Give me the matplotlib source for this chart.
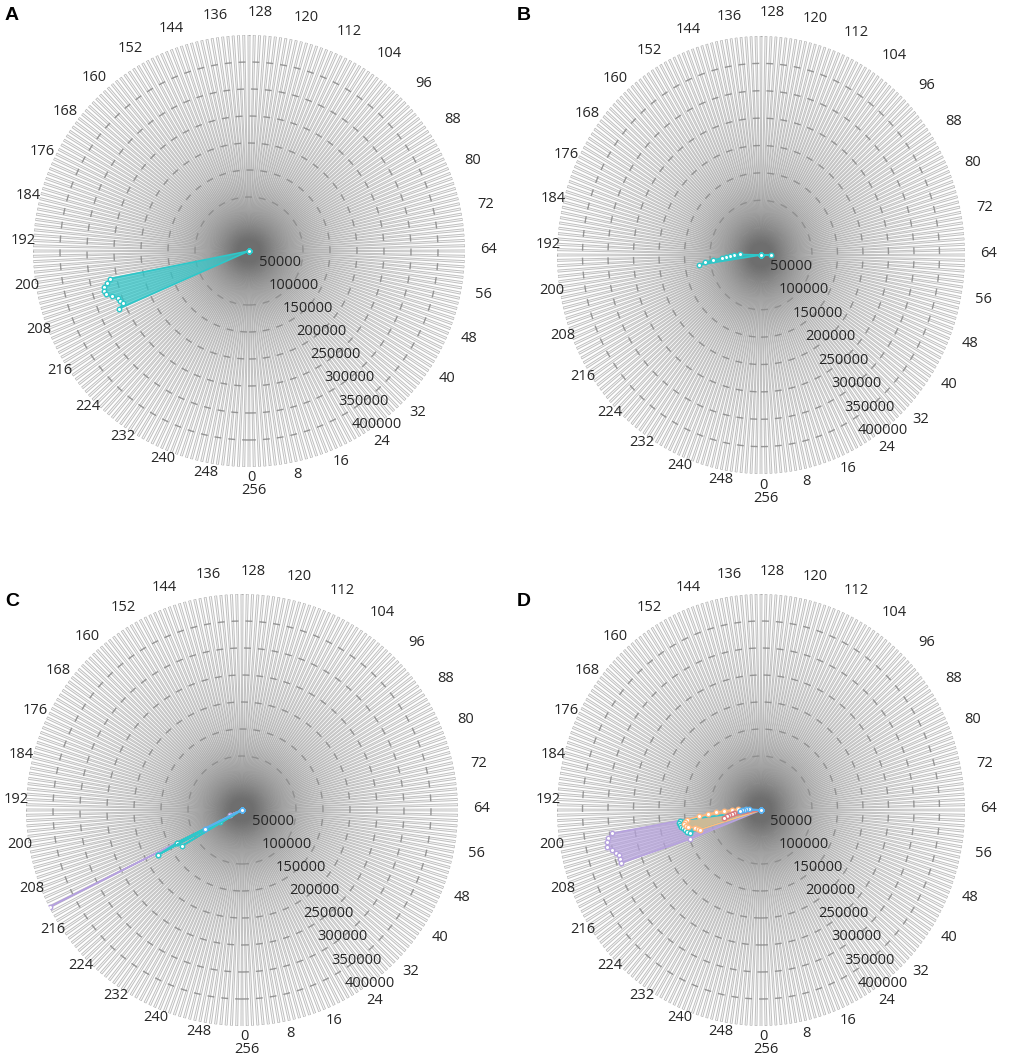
import numpy as np
import matplotlib
matplotlib.use("Agg")
from matplotlib import pyplot as plt

plt.rcParams['font.family'] = ['Open Sans', 'DejaVu Sans']

n_spokes = 256
r_max = 400000
ring_values = [50000, 100000, 150000, 200000, 250000, 300000, 350000, 400000]
ring_labels = ["50000", "100000", "150000", "200000", "250000", "300000", "350000", "400000"]
spoke_labels = list(range(0, 256, 8))

# panel A
a_cyan_idx = [200, 201, 202, 203, 204, 205, 206, 207, 208, 209]
a_cyan_val = [262000, 270000, 276000, 279000, 277000, 268000, 258000, 256000, 252000, 263000]

# panel B
b_cyan_idx = [64, 191, 192, 193, 194, 195, 196, 197, 198]
b_cyan_val = [19000, 41000, 52000, 60000, 68000, 77000, 94000, 110000, 122000]

# panel C (single-point series)
c_purple_idx = [208, 211]
c_purple_val = [24000, 398000]
c_cyan_idx = [212, 214, 211, 212]
c_cyan_val = [46000, 130000, 135000, 176000]
c_blue_idx = [211]
c_blue_val = [77000]

# panel D
d_purple_idx = [197, 198, 199, 200, 201, 202, 203, 204, 205, 206, 207]
d_purple_val = [160000, 296000, 304000, 308000, 310000, 302000, 296000, 290000, 291000, 292000, 150000]
d_cyan_idx = [197, 198, 199, 200, 201, 202, 203, 204]
d_cyan_val = [161000, 162000, 161000, 159000, 156000, 153000, 150000, 146000]
d_orange_idx = [191, 192, 193, 194, 195, 196, 197, 198, 199, 200, 201, 202, 203, 204]
d_orange_val = [45000, 57000, 72000, 88000, 104000, 122000, 147000, 150000, 153000, 150000, 146000, 134000, 129000, 125000]
d_red_idx = [196, 197, 198, 199, 200]
d_red_val = [53000, 58000, 63000, 68000, 74000]
d_blue_idx = [189, 190, 191, 192, 193]
d_blue_val = [24000, 29000, 34000, 38000, 42000]

cyan = '#2ec7c9'
purple = '#b6a2de'
blue = '#5ab1ef'
orange = '#ffb980'
red = '#d87a80'

W, H = 1024, 1056
txt = '#262626'


def radar_axes(fig, cx, cy, rx, ry, letter, lx, ly):
    ax = fig.add_axes([(cx - rx) / W, 1 - (cy + ry) / H, 2 * rx / W, 2 * ry / H],
                      projection='polar')
    ax.set_aspect('auto')
    ax.set_theta_zero_location('S')
    ax.set_theta_direction(1)
    ax.set_ylim(0, r_max)
    ax.grid(False)
    ax.set_xticks([])
    ax.set_yticks([])
    ax.spines['polar'].set_visible(False)

    th = 2 * np.pi * np.arange(n_spokes) / n_spokes
    d = 1.0 / ry
    # each spoke drawn as a thin double line, closed at the rim
    ax.vlines(th - d, 0, r_max, colors='#6e6e6e', alpha=0.42, lw=0.75)
    ax.vlines(th + d, 0, r_max, colors='#6e6e6e', alpha=0.42, lw=0.75)
    ax.hlines(np.full(n_spokes, r_max), th - d, th + d, colors='#6e6e6e', alpha=0.42, lw=0.75)

    circ = np.linspace(0, 2 * np.pi, 1500)
    for v in ring_values[:-1]:
        ax.plot(circ, np.full_like(circ, v), color='#8c8c8c', lw=1.0,
                linestyle=(0, (5, 5)), alpha=0.9)

    for i in spoke_labels:
        t = 2 * np.pi * (i - 0.8) / n_spokes
        ax.annotate(str(i), xy=(t, 431500), xytext=(7, 6), textcoords='offset pixels',
                    ha='center', va='center', fontsize=10.5, color=txt,
                    annotation_clip=False)
    ax.annotate("256", xy=(2 * np.pi * -0.8 / n_spokes, 431500), xytext=(9, -7),
                textcoords='offset pixels', ha='center', va='center', fontsize=10.5,
                color=txt, annotation_clip=False)

    t_lab = np.deg2rad(31)
    for v, s in zip(ring_values, ring_labels):
        ax.annotate(s, xy=(t_lab, v), xytext=(17, 12), textcoords='offset pixels',
                    ha='center', va='center', fontsize=10.5, color=txt,
                    annotation_clip=False, zorder=6)

    fig.text(lx / W, 1 - ly / H, letter, fontsize=14, fontweight='bold',
             family='Liberation Sans', ha='center', va='center')
    return ax


def add_series(ax, idx, val, color):
    r = np.zeros(n_spokes)
    r[idx] = val
    th = 2 * np.pi * np.arange(n_spokes) / n_spokes
    th = np.append(th, th[0])
    r = np.append(r, r[0])
    ax.fill(th, r, color=color, alpha=0.7, lw=0, zorder=4)
    ax.plot(th, r, color=color, lw=1.2, marker='o', ms=3.2, mfc='white',
            mec=color, mew=1.0, zorder=5)


fig = plt.figure(figsize=(10.24, 10.56), dpi=100)

axA = radar_axes(fig, 249, 251, 216, 216, 'A', 12, 15)
add_series(axA, a_cyan_idx, a_cyan_val, cyan)

axB = radar_axes(fig, 761, 255, 204, 219, 'B', 524, 15)
add_series(axB, b_cyan_idx, b_cyan_val, cyan)

axC = radar_axes(fig, 242, 810, 216, 216, 'C', 12, 602)
for i, v in zip(c_purple_idx, c_purple_val):
    add_series(axC, [i], [v], purple)
add_series(axC, c_cyan_idx[2:], c_cyan_val[2:], cyan)
for i, v in zip(c_cyan_idx, c_cyan_val):
    add_series(axC, [i], [v], cyan)
add_series(axC, c_blue_idx, c_blue_val, blue)

axD = radar_axes(fig, 761, 810, 204, 216, 'D', 524, 602)
add_series(axD, d_purple_idx, d_purple_val, purple)
add_series(axD, d_cyan_idx, d_cyan_val, cyan)
add_series(axD, d_orange_idx, d_orange_val, orange)
add_series(axD, d_red_idx, d_red_val, red)
add_series(axD, d_blue_idx, d_blue_val, blue)

fig.savefig('out.png', dpi=100)
